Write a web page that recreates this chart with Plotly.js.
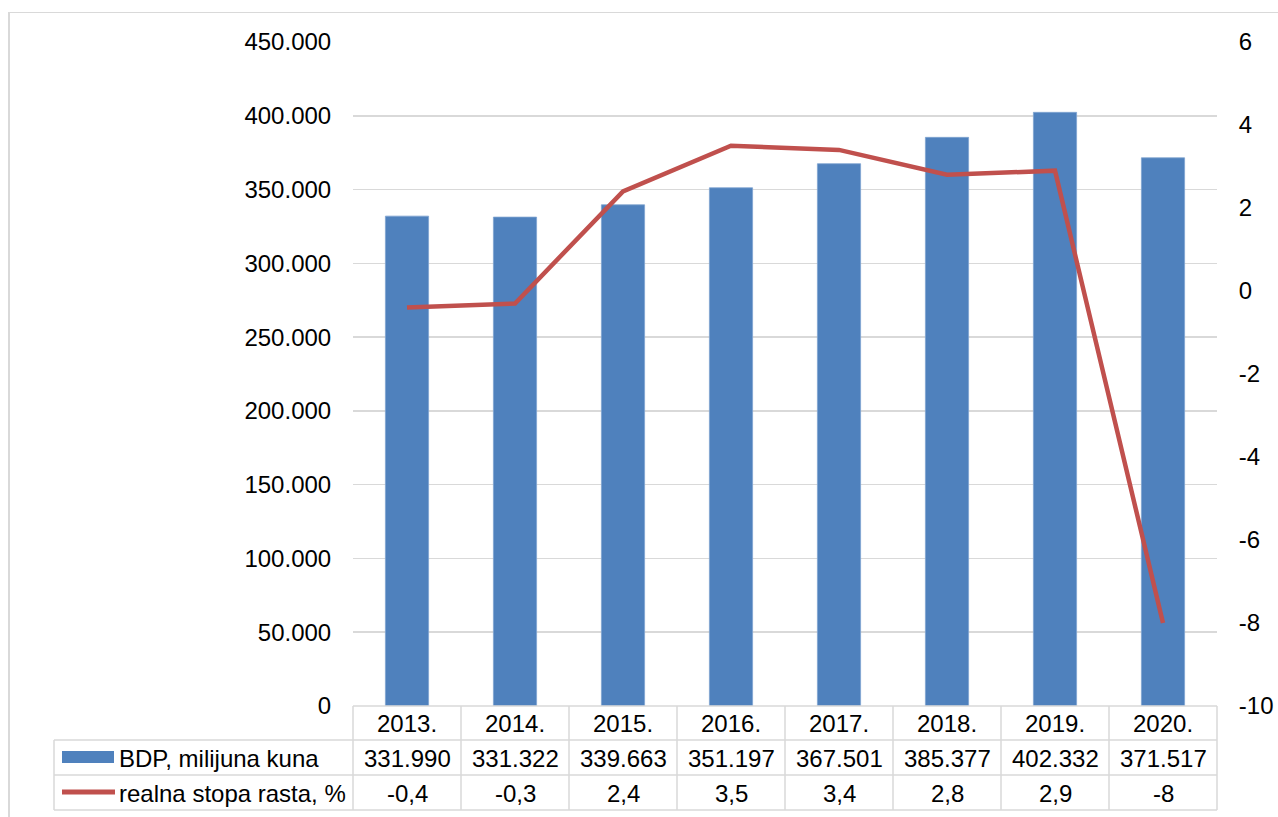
<!DOCTYPE html>
<html>
<head>
<meta charset="utf-8">
<script src="https://cdn.plot.ly/plotly-3.0.1.min.js"></script>
<style>html,body{margin:0;padding:0;background:#fff;}#chart{width:1278px;height:817px;}</style>
</head>
<body>
<div id="chart"></div>
<script>
// ---- data ----
const years = ['2013.', '2014.', '2015.', '2016.', '2017.', '2018.', '2019.', '2020.'];
const bdp = [331990, 331322, 339663, 351197, 367501, 385377, 402332, 371517];
const rate = [-0.4, -0.3, 2.4, 3.5, 3.4, 2.8, 2.9, -8];
const seriesNames = ['BDP, milijuna kuna', 'realna stopa rasta, %'];
const leftTicks = [0, 50000, 100000, 150000, 200000, 250000, 300000, 350000, 400000, 450000];
const rightTicks = [-10, -8, -6, -4, -2, 0, 2, 4, 6];

// ---- helpers ----
const W = 1278, H = 817, L = 353, R = 1217, T = 42, B = 706;
const px = x => (x - L) / (R - L);
const py = y => (B - y) / (B - T);
const fmtThousands = v => String(v).replace(/\B(?=(\d{3})+(?!\d))/g, '.');
const fmtDec = v => String(v).replace('.', ',');
const idx = years.map((_, i) => i); // category positions

const FONT = 'Liberation Sans, Arial, sans-serif';
const GRID = '#d9d9d9';
const BLUE = '#4f81bd';
const RED = '#c0504d';

const traces = [
  {
    type: 'bar', x: idx, y: bdp, name: seriesNames[0], width: 0.4,
    marker: {color: BLUE, line: {color: '#7fa3d1', width: 0.8}},
    hoverinfo: 'none'
  },
  {
    type: 'scatter', mode: 'lines', x: idx, y: rate, name: seriesNames[1], yaxis: 'y2',
    line: {color: RED, width: 4.5},
    hoverinfo: 'none'
  }
];

const shapes = [];
const annotations = [];
function hline(y, x0, x1, color, w) {
  shapes.push({type: 'line', xref: 'paper', yref: 'paper', x0: px(x0), x1: px(x1), y0: py(y), y1: py(y), line: {color: color, width: w}});
}
function vline(x, y0, y1, color, w) {
  shapes.push({type: 'line', xref: 'paper', yref: 'paper', x0: px(x), x1: px(x), y0: py(y0), y1: py(y1), line: {color: color, width: w}});
}
// outer frame
vline(9, 12.5, 830, GRID, 2);
hline(12.5, 8, 1300, GRID, 1);

// data table grid
const rowY = [706, 740, 775, 810];
hline(rowY[0], L, R, GRID, 1.5);
hline(rowY[1], 54, R, GRID, 1.5);
hline(rowY[2], 54, R, GRID, 1.5);
hline(rowY[3], 54, R, GRID, 1.5);
const colW = (R - L) / years.length;
for (let i = 0; i <= years.length; i++) {
  vline(L + i * colW, rowY[0], rowY[3], GRID, 1.5);
}
vline(54, rowY[1], rowY[3], GRID, 1.5);

// legend keys
shapes.push({type: 'rect', xref: 'paper', yref: 'paper', x0: px(62), x1: px(114), y0: py(751), y1: py(763), fillcolor: BLUE, line: {width: 0}});
shapes.push({type: 'line', xref: 'paper', yref: 'paper', x0: px(62), x1: px(115), y0: py(792), y1: py(792), line: {color: RED, width: 5}});

const tf = {family: FONT, size: 24, color: '#000'};
const rowCenters = [(rowY[0] + rowY[1]) / 2 + 1, (rowY[1] + rowY[2]) / 2 + 1, (rowY[2] + rowY[3]) / 2 + 1];
years.forEach((yr, i) => {
  annotations.push({xref: 'x', yref: 'paper', x: idx[i], y: py(rowCenters[0]), text: yr, showarrow: false, xanchor: 'center', yanchor: 'middle', font: tf});
  annotations.push({xref: 'x', yref: 'paper', x: idx[i], y: py(rowCenters[1]), text: fmtThousands(bdp[i]), showarrow: false, xanchor: 'center', yanchor: 'middle', font: tf});
  annotations.push({xref: 'x', yref: 'paper', x: idx[i], y: py(rowCenters[2]), text: fmtDec(rate[i]), showarrow: false, xanchor: 'center', yanchor: 'middle', font: tf});
});
annotations.push({xref: 'paper', yref: 'paper', x: px(117), y: py(rowCenters[1]), text: seriesNames[0], showarrow: false, xanchor: 'left', yanchor: 'middle', font: tf});
annotations.push({xref: 'paper', yref: 'paper', x: px(117), y: py(rowCenters[2]), text: seriesNames[1], showarrow: false, xanchor: 'left', yanchor: 'middle', font: tf});

const layout = {
  width: W, height: H,
  margin: {l: L, r: W - R, t: T, b: H - B, pad: 0},
  paper_bgcolor: '#fff', plot_bgcolor: '#fff',
  showlegend: false,
  separators: ',.',
  font: {family: FONT, size: 24, color: '#000'},
  xaxis: {type: 'linear', range: [-0.5, years.length - 0.5], showticklabels: false, showgrid: false, zeroline: false, showline: false, ticks: '', fixedrange: true},
  yaxis: {
    range: [0, 450000], tickmode: 'array', tickvals: leftTicks, ticktext: leftTicks.map(fmtThousands),
    showgrid: true, gridcolor: GRID, gridwidth: 1.5, zeroline: false, showline: false,
    ticks: 'outside', ticklen: 16, tickcolor: 'rgba(0,0,0,0)',
    tickfont: {family: FONT, size: 24, color: '#000'}
  },
  yaxis2: {
    overlaying: 'y', side: 'right', range: [-10, 6], tickmode: 'array', tickvals: rightTicks, ticktext: rightTicks.map(String),
    showgrid: false, zeroline: false, showline: false,
    ticks: 'outside', ticklen: 16, tickcolor: 'rgba(0,0,0,0)',
    tickfont: {family: FONT, size: 24, color: '#000'}
  },
  shapes: shapes,
  annotations: annotations
};

Plotly.newPlot('chart', traces, layout, {displayModeBar: false, staticPlot: true});
</script>
</body>
</html>
